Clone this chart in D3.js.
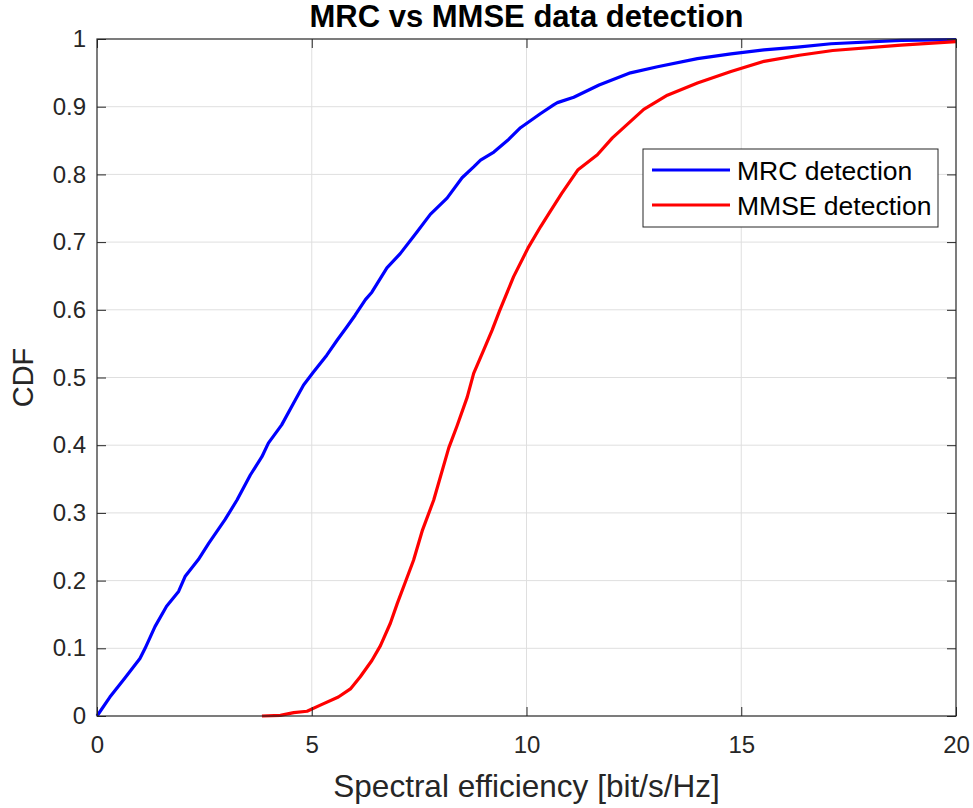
<!DOCTYPE html>
<html lang="en">
<head>
<meta charset="UTF-8">
<title>MRC vs MMSE data detection</title>
<script src="https://d3js.org/d3.v7.min.js"></script>
<style>
  body { margin: 0; padding: 0; background: #fff; }
  text { font-family: "Liberation Sans", Arial, sans-serif; fill: #262626; }
</style>
</head>
<body>
<div id="chart"></div>
<script>
// spectral efficiency [bit/s/Hz] vs CDF
const mrcSE  = [0, 0.30, 0.65, 1.0, 1.12, 1.35, 1.62, 1.9, 2.05, 2.36, 2.6, 2.98, 3.26, 3.57, 3.84, 3.99, 4.3, 4.62, 4.81, 5.04, 5.35, 5.59, 5.82, 6.01, 6.25, 6.40, 6.75, 7.06, 7.45, 7.76, 8.15, 8.50, 8.77, 8.93, 9.24, 9.59, 9.86, 10.33, 10.64, 10.72, 11.1, 11.69, 12.42, 13.05, 13.98, 14.76, 15.53, 16.31, 17.09, 18.72, 20];
const mrcCDF = [0, 0.028, 0.056, 0.085, 0.10, 0.132, 0.162, 0.184, 0.206, 0.231, 0.255, 0.29, 0.319, 0.356, 0.383, 0.403, 0.43, 0.467, 0.489, 0.508, 0.533, 0.555, 0.575, 0.592, 0.615, 0.626, 0.662, 0.683, 0.715, 0.741, 0.765, 0.795, 0.811, 0.821, 0.833, 0.852, 0.869, 0.890, 0.903, 0.906, 0.914, 0.932, 0.95, 0.959, 0.971, 0.978, 0.984, 0.988, 0.993, 0.998, 0.999];

const mmseSE  = [3.84, 4.27, 4.58, 4.89, 5.2, 5.62, 5.9, 6.13, 6.40, 6.6, 6.83, 6.99, 7.18, 7.37, 7.58, 7.84, 8.19, 8.38, 8.62, 8.77, 9.0, 9.2, 9.37, 9.70, 10.05, 10.33, 10.52, 10.82, 11.2, 11.65, 12.0, 12.73, 13.28, 13.98, 14.76, 15.53, 16.35, 17.13, 18.72, 20];
const mmseCDF = [0, 0.001, 0.005, 0.007, 0.016, 0.028, 0.04, 0.058, 0.082, 0.104, 0.137, 0.166, 0.198, 0.23, 0.275, 0.319, 0.396, 0.428, 0.471, 0.506, 0.54, 0.57, 0.598, 0.649, 0.693, 0.723, 0.742, 0.772, 0.807, 0.829, 0.854, 0.896, 0.917, 0.935, 0.952, 0.967, 0.976, 0.983, 0.991, 0.996];

const seriesNames = ["MRC detection", "MMSE detection"];
const seriesColors = ["#0000ff", "#ff0000"];
const xTicks = [0, 5, 10, 15, 20];
const yTicks = [0, 0.1, 0.2, 0.3, 0.4, 0.5, 0.6, 0.7, 0.8, 0.9, 1];

const W = 973, H = 808;
const margin = {top: 39, right: 17, bottom: 92, left: 97};
const width = W - margin.left - margin.right,
      height = H - margin.top - margin.bottom;

const svg = d3.select("#chart").append("svg")
    .attr("width", W).attr("height", H);

const g = svg.append("g")
    .attr("transform", `translate(${margin.left},${margin.top})`);

const x = d3.scaleLinear().domain([0, 20]).range([0, width]);
const y = d3.scaleLinear().domain([0, 1]).range([height, 0]);

// grid
g.append("g").selectAll("line").data(xTicks.slice(1, -1)).join("line")
    .attr("x1", d => x(d)).attr("x2", d => x(d))
    .attr("y1", 0).attr("y2", height)
    .attr("stroke", "#dfdfdf").attr("stroke-width", 1);
g.append("g").selectAll("line").data(yTicks.slice(1, -1)).join("line")
    .attr("y1", d => y(d)).attr("y2", d => y(d))
    .attr("x1", 0).attr("x2", width)
    .attr("stroke", "#dfdfdf").attr("stroke-width", 1);

// curves
const line = d3.line().x(d => x(d[0])).y(d => y(d[1]));
const series = [
  d3.zip(mrcSE, mrcCDF),
  d3.zip(mmseSE, mmseCDF)
];
series.forEach((s, i) => {
  g.append("path").datum(s)
    .attr("d", line)
    .attr("fill", "none")
    .attr("stroke", seriesColors[i])
    .attr("stroke-width", 3.2)
    .attr("stroke-linejoin", "round");
});

// axes (MATLAB style: ticks inward, box all round)
const tickLen = 9;
const axStyle = sel => {
  sel.select(".domain").remove();
  sel.selectAll(".tick line").attr("stroke", "#262626");
  sel.selectAll(".tick text").attr("font-size", 24).attr("fill", "#262626")
     .attr("font-family", '"Liberation Sans", Arial, sans-serif');
};
g.append("g").attr("transform", `translate(0,${height})`)
  .call(d3.axisBottom(x).tickValues(xTicks).tickSizeInner(-tickLen).tickPadding(20).tickFormat(d3.format("d")))
  .call(axStyle);
g.append("g")
  .call(d3.axisTop(x).tickValues(xTicks).tickSizeInner(-tickLen).tickFormat(""))
  .call(axStyle);
g.append("g")
  .call(d3.axisLeft(y).tickValues(yTicks).tickSizeInner(-tickLen).tickPadding(11).tickFormat(d => d === 0 || d === 1 ? d : d3.format(".1f")(d)))
  .call(axStyle);
g.append("g").attr("transform", `translate(${width},0)`)
  .call(d3.axisRight(y).tickValues(yTicks).tickSizeInner(-tickLen).tickFormat(""))
  .call(axStyle);

g.append("rect")
  .attr("width", width).attr("height", height)
  .attr("fill", "none").attr("stroke", "#262626").attr("stroke-width", 1.2);

// labels
svg.append("text")
  .attr("x", margin.left + width / 2).attr("y", 27)
  .attr("text-anchor", "middle")
  .attr("font-size", 31).attr("font-weight", "bold")
  .style("fill", "#000")
  .text("MRC vs MMSE data detection");

svg.append("text")
  .attr("x", margin.left + width / 2).attr("y", 797)
  .attr("text-anchor", "middle")
  .attr("font-size", 31.5)
  .text("Spectral efficiency [bit/s/Hz]");

svg.append("text")
  .attr("transform", `translate(33,${margin.top + height / 2}) rotate(-90)`)
  .attr("text-anchor", "middle")
  .attr("font-size", 29)
  .text("CDF");

// legend
const leg = svg.append("g").attr("transform", "translate(643,149)");
leg.append("rect")
  .attr("width", 295).attr("height", 78)
  .attr("fill", "#fff").attr("stroke", "#262626").attr("stroke-width", 1);
seriesNames.forEach((name, i) => {
  const yy = 21 + i * 35;
  leg.append("line")
    .attr("x1", 9).attr("x2", 87).attr("y1", yy).attr("y2", yy)
    .attr("stroke", seriesColors[i]).attr("stroke-width", 3.2);
  leg.append("text")
    .attr("x", 94).attr("y", yy + 10)
    .attr("font-size", 26.5)
    .style("fill", "#000")
    .text(name);
});
</script>
</body>
</html>
